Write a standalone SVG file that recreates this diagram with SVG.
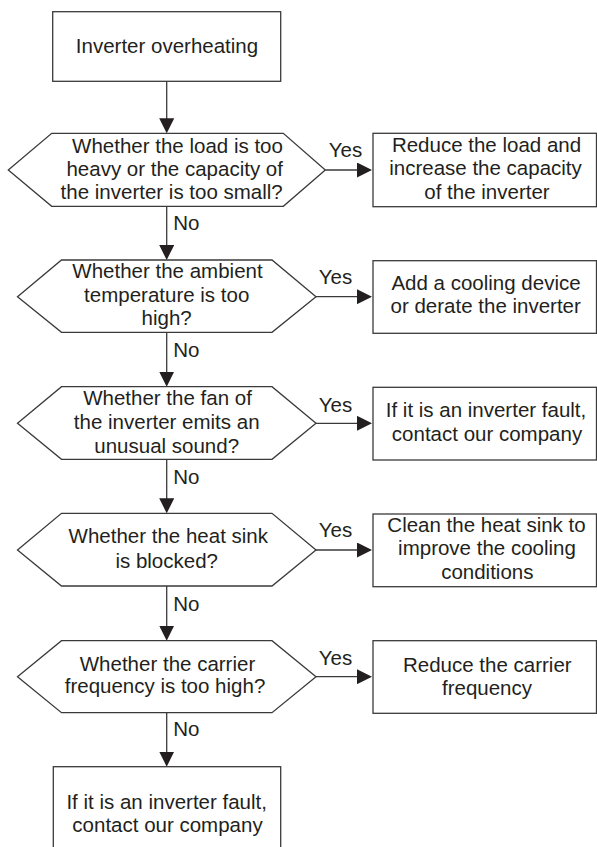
<svg xmlns="http://www.w3.org/2000/svg" width="597" height="847" viewBox="0 0 597 847">
<style>
.s{fill:#fff;stroke:#3a3a3a;stroke-width:1.3}
.c{fill:none;stroke:#3a3a3a;stroke-width:1.3}
text{font-family:"Liberation Sans",Arial,sans-serif;font-size:20.5px;fill:#231f20}
.m{text-anchor:middle}
</style>
<defs>
<marker id="ah" markerUnits="userSpaceOnUse" markerWidth="15" markerHeight="15" viewBox="0 0 15 15" refX="12" refY="7.5" orient="auto">
<path d="M0,0 L15,7.5 L0,15 z" fill="#231f20"/>
</marker>
</defs>
<rect width="597" height="847" fill="#fff"/>
<g id="connectors">
<line class="c" x1="166.7" y1="81.3" x2="166.7" y2="130.3" marker-end="url(#ah)"/>
<line class="c" x1="166.7" y1="206.3" x2="166.7" y2="257" marker-end="url(#ah)"/>
<line class="c" x1="166.7" y1="332.3" x2="166.7" y2="383.7" marker-end="url(#ah)"/>
<line class="c" x1="166.7" y1="459.3" x2="166.7" y2="510.3" marker-end="url(#ah)"/>
<line class="c" x1="166.7" y1="586" x2="166.7" y2="637.7" marker-end="url(#ah)"/>
<line class="c" x1="166.7" y1="712.7" x2="166.7" y2="763.7" marker-end="url(#ah)"/>
<line class="c" x1="325.3" y1="170" x2="369" y2="170" marker-end="url(#ah)"/>
<line class="c" x1="316" y1="296.7" x2="369" y2="296.7" marker-end="url(#ah)"/>
<line class="c" x1="316" y1="423.3" x2="369" y2="423.3" marker-end="url(#ah)"/>
<line class="c" x1="316" y1="550" x2="369" y2="550" marker-end="url(#ah)"/>
<line class="c" x1="316" y1="676.7" x2="369" y2="676.7" marker-end="url(#ah)"/>
<text x="328.7" y="156.7">Yes</text>
<text x="318.7" y="284.3">Yes</text>
<text x="318.7" y="411.7">Yes</text>
<text x="318.7" y="536.7">Yes</text>
<text x="318.7" y="665">Yes</text>
<text x="173.3" y="230">No</text>
<text x="173.3" y="356.7">No</text>
<text x="173.3" y="484">No</text>
<text x="173.3" y="610.5">No</text>
<text x="173.3" y="736">No</text>
</g>
<g id="start">
<rect class="s" x="52.7" y="11.7" width="228" height="69.6"/>
<text class="m" x="167" y="53.3">Inverter overheating</text>
</g>
<g id="q1">
<polygon class="s" points="8.3,170 51.7,133.3 283.3,133.3 325.3,170 283.3,206.3 51.7,206.3"/>
<text class="m" x="177.5" y="153.3">Whether the load is too</text>
<text class="m" x="174.7" y="176.3">heavy or the capacity of</text>
<text class="m" x="171.7" y="199.3">the inverter is too small?</text>
</g>
<g id="a1">
<rect class="s" x="373" y="133.3" width="223.5" height="73.4"/>
<text class="m" x="486.5" y="152.3">Reduce the load and</text>
<text class="m" x="485.5" y="175">increase the capacity</text>
<text class="m" x="487" y="199.3">of the inverter</text>
</g>
<g id="q2">
<polygon class="s" points="17.5,296.7 61.5,260 272,260 316,296.7 272,332.3 61.5,332.3"/>
<text class="m" x="167.5" y="278.3">Whether the ambient</text>
<text class="m" x="166.7" y="301.7">temperature is too</text>
<text class="m" x="166.7" y="325">high?</text>
</g>
<g id="a2">
<rect class="s" x="373" y="260.7" width="223.5" height="72.6"/>
<text class="m" x="486" y="290">Add a cooling device</text>
<text class="m" x="485.7" y="313.3">or derate the inverter</text>
</g>
<g id="q3">
<polygon class="s" points="17.5,423.3 61.5,386.7 272,386.7 316,423.3 272,459.3 61.5,459.3"/>
<text class="m" x="167.5" y="405">Whether the fan of</text>
<text class="m" x="166.7" y="429">the inverter emits an</text>
<text class="m" x="166.7" y="452.5">unusual sound?</text>
</g>
<g id="a3">
<rect class="s" x="373" y="387.3" width="223.5" height="72.7"/>
<text class="m" x="486" y="417.3">If it is an inverter fault,</text>
<text class="m" x="487" y="440.7">contact our company</text>
</g>
<g id="q4">
<polygon class="s" points="17.5,550 61.5,513.3 272,513.3 316,550 272,586 61.5,586"/>
<text class="m" x="168.3" y="543.3">Whether the heat sink</text>
<text class="m" x="166.7" y="568.3">is blocked?</text>
</g>
<g id="a4">
<rect class="s" x="373" y="514" width="223.5" height="72.7"/>
<text class="m" x="486.5" y="531.7">Clean the heat sink to</text>
<text class="m" x="487" y="555">improve the cooling</text>
<text class="m" x="487.3" y="579.3">conditions</text>
</g>
<g id="q5">
<polygon class="s" points="17.5,676.7 61.5,640.7 272,640.7 316,676.7 272,712.7 61.5,712.7"/>
<text class="m" x="167.5" y="670.7">Whether the carrier</text>
<text class="m" x="165" y="693.3">frequency is too high?</text>
</g>
<g id="a5">
<rect class="s" x="373" y="640.7" width="223.5" height="72.6"/>
<text class="m" x="487.3" y="671.7">Reduce the carrier</text>
<text class="m" x="487" y="695">frequency</text>
</g>
<g id="end">
<rect class="s" x="53.3" y="766.7" width="227.4" height="90"/>
<text class="m" x="166.7" y="809.3">If it is an inverter fault,</text>
<text class="m" x="167.5" y="831.7">contact our company</text>
</g>
</svg>
